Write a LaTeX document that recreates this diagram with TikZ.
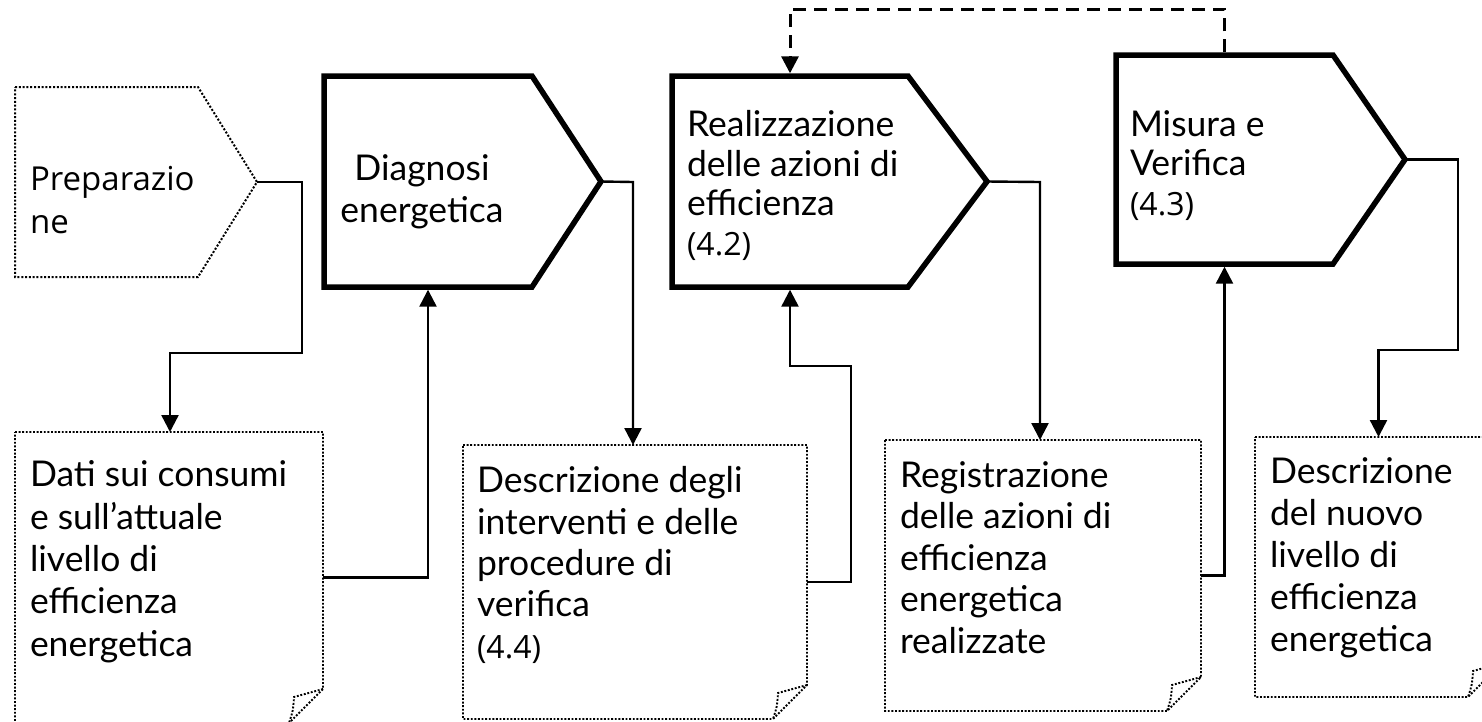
\documentclass[tikz,border=0pt]{standalone}
\usepackage{fontspec}
\setmainfont{Lato}
\newfontfamily\altfont{Open Sans}
\usetikzlibrary{arrows.meta}
\begin{document}
\begin{tikzpicture}[x=1pt,y=-1pt,
  stage/.style={draw, line width=5.5pt, line join=miter},
  prepline/.style={draw, line width=2pt, dash pattern=on 2pt off 1.8pt},
  docline/.style={draw, line width=1.9pt, dash pattern=on 1.9pt off 1.7pt},
  box/.style={inner sep=0pt, outer sep=0pt, anchor=north west},
  conn/.style={line width=2.4pt, line join=miter, -{Triangle[length=17pt,width=17pt]}},
  fb/.style={line width=3pt, dash pattern=on 13pt off 8pt, -{Triangle[length=17pt,width=17pt]}},
  txt/.style={inner sep=0pt, outer sep=0pt, align=left, anchor=base west, font=\fontsize{35.5pt}{42pt}\selectfont},
]
\useasboundingbox (0,0) rectangle (1482,721);

% stage boxes (rectangular part as nodes)
\node[box, minimum width=183pt, minimum height=190pt] (prep) at (15,87) {};
\node[box, minimum width=208pt, minimum height=211pt] (diag) at (324,76) {};
\node[box, minimum width=236pt, minimum height=211pt] (real) at (672,76) {};
\node[box, minimum width=217pt, minimum height=209pt] (mis) at (1116,55) {};
\coordinate (prepTip) at ([xshift=59pt]prep.east);
\coordinate (diagTip) at ([xshift=69pt]diag.east);
\coordinate (realTip) at ([xshift=79pt]real.east);
\coordinate (misTip) at ([xshift=72pt]mis.east);

\path[prepline] (prep.north west) -- (prep.north east) -- (prepTip) -- (prep.south east) -- (prep.south west) -- cycle;
\foreach \s in {diag,real,mis}
  \path[stage] (\s.north west) -- (\s.north east) -- (\s Tip) -- (\s.south east) -- (\s.south west) -- cycle;

% documents
\node[box, minimum width=308pt, minimum height=291pt] (d1) at (15,432) {};
\node[box, minimum width=344pt, minimum height=274pt] (d2) at (463,445) {};
\node[box, minimum width=316pt, minimum height=271pt] (d3) at (885,440) {};
\node[box, minimum width=247pt, minimum height=260pt] (d4) at (1255,437) {};
\foreach \d in {d1,d2,d3,d4} {
  \path[docline] (\d.north west) -- (\d.north east) -- ([yshift=34pt]\d.south east)
     -- ([xshift=-34pt]\d.south east) -- (\d.south west) -- cycle;
  \path[docline] ([yshift=34pt]\d.south east)
     .. controls ([xshift=-14pt,yshift=30pt]\d.south east) .. ([xshift=-29pt,yshift=26pt]\d.south east)
     .. controls ([xshift=-30pt,yshift=12pt]\d.south east) .. ([xshift=-34pt]\d.south east);
}

% texts (anchor = baseline of the last line)
\node[txt, font=\altfont\fontsize{33pt}{43pt}\selectfont] (tprep) at (30,233) {Preparazio\\ne};
\node[txt, align=center, anchor=base] (tdiag) at (422,222) {Diagnosi\\energetica};
\node[txt, font=\fontsize{35.5pt}{39.5pt}\selectfont] (treal) at (687,255) {Realizzazione\\delle azioni di\\efficienza\\{\altfont\fontsize{32pt}{39.5pt}\selectfont (4.2)}};
\node[txt, font=\fontsize{35.5pt}{39.5pt}\selectfont] (tmis) at (1130,215) {Misura e\\Verifica\\{\altfont\fontsize{32pt}{39.5pt}\selectfont (4.3)}};
\node[txt, font=\fontsize{35.5pt}{42.3pt}\selectfont] (t1) at (30,656) {Dati sui consumi\\e sull’attuale\\livello di\\efficienza\\energetica};
\node[txt, font=\fontsize{35.5pt}{41.3pt}\selectfont] (t2) at (477,658) {Descrizione degli\\interventi e delle\\procedure di\\verifica\\{\altfont\fontsize{32pt}{41.3pt}\selectfont (4.4)}};
\node[txt, font=\fontsize{35.5pt}{41.5pt}\selectfont] (t3) at (900,653) {Registrazione\\delle azioni di\\efficienza\\energetica\\realizzate};
\node[txt] (t4) at (1270,651) {Descrizione\\del nuovo\\livello di\\efficienza\\energetica};

% connectors
\coordinate (p1) at (302,353);
\coordinate (p2) at (170,353);
\coordinate (p3) at (633,182);
\coordinate (p4) at (851,366);
\coordinate (p5) at (1040,182);
\coordinate (p6) at (1458,350);
\coordinate (p7) at (1000,9);

\draw[conn] (prepTip) -| (p1) -- (p2) -- (p2 |- d1.north);
\draw[conn] (d1.east) -| ([yshift=-2.7pt]diag.south);
\draw[conn] (diagTip) -- (p3) -- (p3 |- d2.north);
\draw[conn] (d2.east) -| (p4) -| ([yshift=-2.7pt]real.south);
\draw[conn] (realTip) -- (p5) -- (p5 |- d3.north);
\draw[conn] (d3.east) -| ([yshift=-2.7pt]mis.south);
\draw[conn] (misTip) -| (p6) -| (d4.north);
\draw[fb] ([yshift=2.7pt]mis.north) |- (p7) -| ([yshift=2.7pt]real.north);
\end{tikzpicture}
\end{document}
